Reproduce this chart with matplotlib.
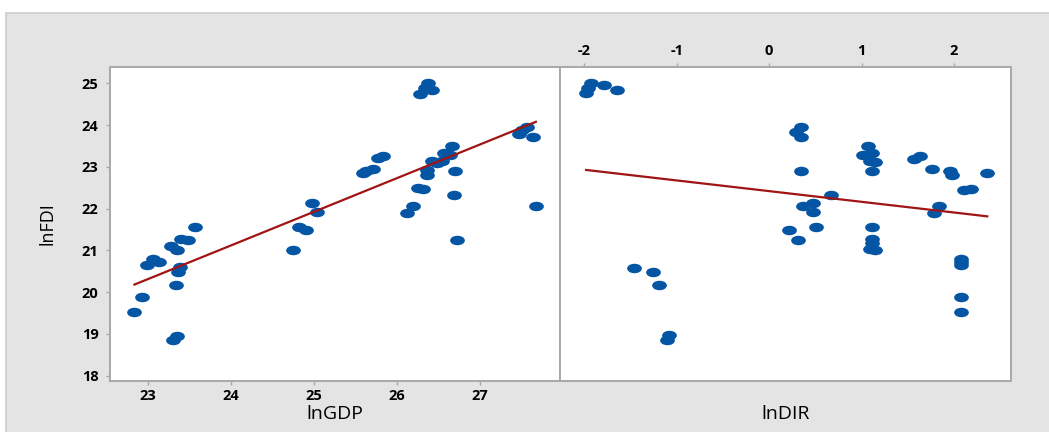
import numpy as np
import matplotlib
matplotlib.use("Agg")
import matplotlib.pyplot as plt
from matplotlib.markers import MarkerStyle
from matplotlib.transforms import Affine2D
from matplotlib.patches import Rectangle

plt.rcParams["font.family"] = ["Open Sans", "DejaVu Sans"]
plt.rcParams["axes.unicode_minus"] = False

# lnFDI against lnGDP
gdp = [22.84, 22.93, 22.99, 23.06, 23.13, 23.28, 23.35, 23.40, 23.49, 23.57,
       23.39, 23.37, 23.34, 23.35, 23.30, 24.75, 24.82, 24.91, 24.98, 25.04,
       25.59, 25.63, 25.71, 25.77, 25.83, 26.12, 26.19, 26.25, 26.31, 26.36,
       26.36, 26.28, 26.34, 26.37, 26.42, 26.42, 26.48, 26.54, 26.56, 26.64,
       26.66, 26.70, 26.68, 26.72, 27.47, 27.50, 27.56, 27.63, 27.67]
fdi_gdp = [19.52, 19.89, 20.65, 20.80, 20.72, 21.10, 21.01, 21.28, 21.25, 21.55,
           20.60, 20.49, 20.16, 18.95, 18.86, 21.01, 21.55, 21.49, 22.13, 21.92,
           22.85, 22.89, 22.94, 23.22, 23.25, 21.90, 22.06, 22.49, 22.46, 22.93,
           22.81, 24.75, 24.88, 25.00, 24.84, 23.15, 23.10, 23.13, 23.34, 23.29,
           23.50, 22.91, 22.32, 21.25, 23.79, 23.88, 23.96, 23.71, 22.06]

# lnFDI against lnDIR
dir_ = [-1.98, -1.96, -1.93, -1.79, -1.65, -1.46, -1.26, -1.19, -1.08, -1.10,
        0.29, 0.35, 0.35, 0.35, 0.21, 0.31, 0.37, 0.47, 0.47, 0.51,
        0.67, 1.07, 1.02, 1.11, 1.09, 1.15, 1.11, 1.11, 1.11, 1.11,
        1.09, 1.15, 1.57, 1.63, 1.76, 1.96, 1.98, 2.36, 2.11, 2.18,
        1.84, 1.78, 2.08, 2.08, 2.08, 2.08, 2.08]
fdi_dir = [24.76, 24.88, 25.01, 24.97, 24.83, 20.59, 20.49, 20.16, 18.97, 18.86,
           23.84, 23.95, 23.71, 22.91, 21.49, 21.25, 22.06, 22.14, 21.92, 21.55,
           22.32, 23.49, 23.28, 23.33, 23.15, 23.12, 22.91, 21.55, 21.28, 21.17,
           21.04, 21.01, 23.20, 23.25, 22.94, 22.91, 22.80, 22.85, 22.45, 22.48,
           22.06, 21.90, 20.79, 20.72, 20.65, 19.89, 19.52]

# fitted lines (slope, intercept)
fit_gdp = (0.807, 1.75)
fit_dir = (-0.256, 22.42)

DOT = "#0455a4"
LINE = "#a01414"
SPINE = "#a8a8a8"
BG = "#e4e4e4"

ellipse = MarkerStyle("o", transform=Affine2D().scale(1.65, 1.0))

fig = plt.figure(figsize=(10.49, 4.32), dpi=100)
fig.patches.append(Rectangle((0.0057, -0.01), 1.0, 0.979, transform=fig.transFigure,
                             facecolor=BG, edgecolor="#cdcdcd", lw=1.2, zorder=-1))

a1 = fig.add_axes([0.1044, 0.1188, 0.4294, 0.7268])
a2 = fig.add_axes([0.5338, 0.1188, 0.4300, 0.7268])


def panel(ax, x, y, fit):
    ax.plot(x, y, ls="none", marker=ellipse, ms=5.8, color=DOT, zorder=2)
    xs = np.array([min(x), max(x)])
    ax.plot(xs, fit[0] * xs + fit[1], color=LINE, lw=1.6, zorder=3)
    ax.set_facecolor("white")
    for s in ax.spines.values():
        s.set_color(SPINE)
        s.set_linewidth(1.4)
    ax.set_ylim(17.88, 25.40)
    ax.tick_params(length=3, width=1, color=SPINE, labelsize=10.5, pad=3)


def bold_ticks(ax):
    for lab in ax.get_xticklabels() + ax.get_yticklabels():
        lab.set_fontweight("bold")


def xlabel(ax, text):
    ax.set_xlabel(text, fontsize=14, va="center")
    ax.xaxis.set_label_position("bottom")
    ax.xaxis.set_label_coords(0.5, -0.078)


panel(a1, gdp, fdi_gdp, fit_gdp)
a1.set_xlim(22.54, 27.96)
a1.set_xticks([23, 24, 25, 26, 27])
a1.set_yticks([18, 19, 20, 21, 22, 23, 24, 25])
a1.tick_params(axis="y", pad=5)
xlabel(a1, "lnGDP")
a1.set_ylabel("lnFDI", fontsize=13, va="center")
a1.yaxis.set_label_coords(-0.138, 0.5)
bold_ticks(a1)

panel(a2, dir_, fdi_dir, fit_dir)
a2.set_xlim(-2.263, 2.617)
a2.set_xticks([-2, -1, 0, 1, 2])
a2.set_yticks([])
a2.xaxis.tick_top()
xlabel(a2, "lnDIR")
bold_ticks(a2)

fig.savefig("out.png", dpi=100)
